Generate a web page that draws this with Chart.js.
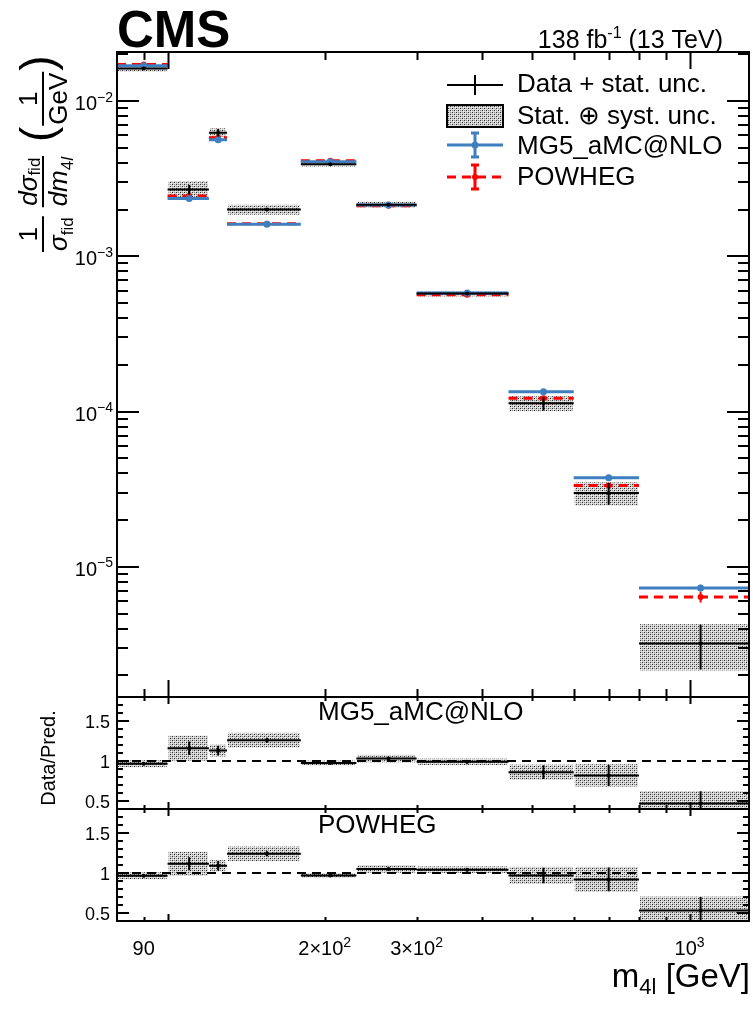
<!DOCTYPE html>
<html>
<head>
<meta charset="utf-8">
<script src="https://cdn.jsdelivr.net/npm/chart.js@4/dist/chart.umd.min.js"></script>
<style>
  html, body { margin: 0; padding: 0; background: #fff; }
  #wrap { width: 753px; height: 1015px; position: relative; }
</style>
</head>
<body>
<div id="wrap"><canvas id="chart" width="753" height="1015"></canvas></div>
<script>
// m4l bins (GeV) and points
const binEdges = [80, 100, 120, 130, 180, 230, 300, 450, 600, 800, 1300];
const binCenters = [90, 110, 125, 155, 205, 265, 375, 525, 700, 1050];

// normalised cross sections (1/GeV)
const dataXsec = [0.0162, 0.00269, 0.00626, 0.00200, 0.00391, 0.00215, 0.000575, 0.000113, 0.0000299, 0.00000321];
const dataStatRel = [0.02, 0.072, 0.055, 0.025, 0.015, 0.015, 0.02, 0.10, 0.16, 0.32];
const dataTotRel = [0.045, 0.135, 0.065, 0.073, 0.03, 0.045, 0.04, 0.11, 0.17, 0.33];

const mg5Xsec = [0.0169, 0.00236, 0.00564, 0.00161, 0.00407, 0.00214, 0.00058, 0.000134, 0.0000374, 0.00000731];
const mg5UncRel = [0.02, 0.02, 0.02, 0.02, 0.015, 0.015, 0.02, 0.03, 0.04, 0.05];
const powhegXsec = [0.0172, 0.00245, 0.00581, 0.00162, 0.00413, 0.00212, 0.000565, 0.000122, 0.0000334, 0.0000064];
const powhegUncRel = [0.01, 0.01, 0.01, 0.01, 0.01, 0.01, 0.015, 0.02, 0.03, 0.08];

// data / prediction
const ratioMg5 = [0.966, 1.16, 1.13, 1.26, 0.975, 1.03, 0.99, 0.86, 0.82, 0.47];
const ratioPowheg = [0.966, 1.116, 1.09, 1.24, 0.97, 1.05, 1.04, 0.97, 0.92, 0.53];

// axis ticks
const xMajorTicks = [100, 1000];
const xMinorTicks = [90, 200, 300, 400, 500, 600, 700, 800, 900];
const xTickValues = [90, 200, 300, 1000];
const xTickText = ['90', '2\u00d710^2', '3\u00d710^2', '10^3'];
const yMainTickValues = [1e-5, 1e-4, 1e-3, 1e-2];
const yMainTickText = ['10^\u22125', '10^\u22124', '10^\u22123', '10^\u22122'];
const ratioTickValues = [0.5, 1, 1.5];
const ratioTickText = ['0.5', '1', '1.5'];

const FONT = '"Liberation Sans", Arial, Helvetica, sans-serif';
const BLUE = '#3f7fc0';
const RED = '#ff0000';

const pattern = (() => {
  const c = document.createElement('canvas');
  c.width = 4; c.height = 4;
  const g = c.getContext('2d');
  g.fillStyle = '#d4d4d4'; g.fillRect(0, 0, 4, 4);
  g.fillStyle = '#2e2e2e';
  g.fillRect(0, 0, 1, 1); g.fillRect(2, 2, 1, 1);
  g.fillStyle = '#8c8c8c';
  g.fillRect(2, 0, 1, 1); g.fillRect(0, 2, 1, 1);
  g.fillStyle = '#f4f4f4';
  g.fillRect(1, 1, 1, 1); g.fillRect(3, 3, 1, 1);
  return g.createPattern(c, 'repeat');
})();

function stepPoints(values) {
  const pts = [];
  values.forEach((v, i) => {
    pts.push({x: binEdges[i], y: v}, {x: binEdges[i + 1], y: v}, {x: binEdges[i + 1], y: null});
  });
  return pts;
}
function errPoints(values, rel) {
  const pts = [];
  values.forEach((v, i) => {
    pts.push({x: binCenters[i], y: v * (1 - rel[i])}, {x: binCenters[i], y: v * (1 + rel[i])}, {x: binCenters[i], y: null});
  });
  return pts;
}
function centerPoints(values) {
  return values.map((v, i) => ({x: binCenters[i], y: v}));
}
function lineSet(data, yAxisID, color, width, order, dash) {
  return {data, yAxisID, xAxisID: 'x', showLine: true, pointRadius: 0, borderColor: color,
    borderWidth: width, borderDash: dash || [], order, fill: false, borderCapStyle: 'butt'};
}
function dotSet(data, yAxisID, color, r, order) {
  return {data, yAxisID, xAxisID: 'x', showLine: false, pointRadius: r, pointBorderWidth: 0,
    backgroundColor: color, borderColor: color, order};
}

const datasets = [
  // main panel
  lineSet(stepPoints(powhegXsec), 'yMain', RED, 3, 6, [9, 6]),
  lineSet(errPoints(powhegXsec, powhegUncRel), 'yMain', RED, 2, 6),
  dotSet(centerPoints(powhegXsec), 'yMain', RED, 3, 6),
  lineSet(stepPoints(mg5Xsec), 'yMain', BLUE, 3, 5),
  lineSet(errPoints(mg5Xsec, mg5UncRel), 'yMain', BLUE, 2, 5),
  dotSet(centerPoints(mg5Xsec), 'yMain', BLUE, 3.5, 5),
  lineSet(stepPoints(dataXsec), 'yMain', '#000', 2, 2),
  lineSet(errPoints(dataXsec, dataStatRel), 'yMain', '#000', 2, 2),
  dotSet(centerPoints(dataXsec), 'yMain', '#000', 2, 2),
  // ratio MG5
  lineSet([{x: binEdges[0], y: 1}, {x: binEdges[binEdges.length - 1], y: 1}], 'yR1', '#000', 2, 4, [9, 6]),
  lineSet(stepPoints(ratioMg5), 'yR1', '#000', 2, 2),
  lineSet(errPoints(ratioMg5, dataStatRel), 'yR1', '#000', 2, 2),
  dotSet(centerPoints(ratioMg5), 'yR1', '#000', 2, 2),
  // ratio POWHEG
  lineSet([{x: binEdges[0], y: 1}, {x: binEdges[binEdges.length - 1], y: 1}], 'yR2', '#000', 2, 4, [9, 6]),
  lineSet(stepPoints(ratioPowheg), 'yR2', '#000', 2, 2),
  lineSet(errPoints(ratioPowheg, dataStatRel), 'yR2', '#000', 2, 2),
  dotSet(centerPoints(ratioPowheg), 'yR2', '#000', 2, 2)
];

const boxPlugin = {
  id: 'uncBoxes',
  beforeDatasetsDraw(chart) {
    const ctx = chart.ctx;
    const x = chart.scales.x;
    const drawBoxes = (yScale, values, rel) => {
      ctx.save();
      ctx.beginPath();
      ctx.rect(x.left, yScale.top, x.right - x.left, yScale.bottom - yScale.top);
      ctx.clip();
      ctx.fillStyle = pattern;
      values.forEach((v, i) => {
        const x0 = x.getPixelForValue(binEdges[i]) + 1;
        const x1 = x.getPixelForValue(binEdges[i + 1]) - 1;
        const y0 = yScale.getPixelForValue(v * (1 + rel[i]));
        const y1 = yScale.getPixelForValue(v * (1 - rel[i]));
        ctx.fillRect(x0, y0, x1 - x0, y1 - y0);
      });
      ctx.restore();
    };
    drawBoxes(chart.scales.yMain, dataXsec, dataTotRel);
    drawBoxes(chart.scales.yR1, ratioMg5, dataTotRel);
    drawBoxes(chart.scales.yR2, ratioPowheg, dataTotRel);
  }
};

const clipPlugin = {
  id: 'panelClip',
  beforeDatasetDraw(chart, args) {
    const y = chart.scales[args.meta.yAxisID];
    const x = chart.scales.x;
    chart.ctx.save();
    chart.ctx.beginPath();
    chart.ctx.rect(x.left, y.top, x.right - x.left, y.bottom - y.top);
    chart.ctx.clip();
  },
  afterDatasetDraw(chart) {
    chart.ctx.restore();
  }
};

// text with ^superscript
function drawRich(ctx, text, x, y, size, align) {
  const parts = [];
  const m = text.split('^');
  parts.push({t: m[0], sup: false});
  if (m.length > 1) parts.push({t: m[1], sup: true});
  const supSize = Math.round(size * 0.7);
  let w = 0;
  parts.forEach(p => {
    ctx.font = (p.sup ? supSize : size) + 'px ' + FONT;
    p.w = ctx.measureText(p.t).width;
    w += p.w;
  });
  let cx = align === 'right' ? x - w : align === 'center' ? x - w / 2 : x;
  ctx.textAlign = 'left';
  ctx.textBaseline = 'alphabetic';
  parts.forEach(p => {
    ctx.font = (p.sup ? supSize : size) + 'px ' + FONT;
    ctx.fillText(p.t, cx, p.sup ? y - size * 0.42 : y);
    cx += p.w;
  });
}

const framePlugin = {
  id: 'frames',
  afterDraw(chart) {
    const ctx = chart.ctx;
    const x = chart.scales.x;
    const panels = [
      {s: chart.scales.yMain, xMaj: 17, xMin: 8},
      {s: chart.scales.yR1, xMaj: 7, xMin: 4},
      {s: chart.scales.yR2, xMaj: 7, xMin: 4}
    ];
    ctx.save();
    ctx.strokeStyle = '#000';
    ctx.fillStyle = '#000';
    ctx.lineWidth = 2;
    panels.forEach((p, k) => {
      const s = p.s;
      // x ticks top and bottom, inward
      const xt = (v, len) => {
        const px = Math.round(x.getPixelForValue(v)) + 0.5;
        ctx.beginPath();
        ctx.moveTo(px, s.bottom); ctx.lineTo(px, s.bottom - len);
        ctx.moveTo(px, s.top); ctx.lineTo(px, s.top + len);
        ctx.stroke();
      };
      xMinorTicks.forEach(v => xt(v, p.xMin));
      xMajorTicks.forEach(v => xt(v, p.xMaj));
      // y ticks left and right
      const yt = (v, len) => {
        const py = Math.round(s.getPixelForValue(v));
        if (py < s.top + 1 || py > s.bottom - 1) return;
        ctx.beginPath();
        ctx.moveTo(x.left, py); ctx.lineTo(x.left + len, py);
        ctx.moveTo(x.right, py); ctx.lineTo(x.right - len, py);
        ctx.stroke();
      };
      if (k === 0) {
        for (let e = -6; e <= -2; e++) {
          for (let d = 1; d <= 9; d++) yt(d * Math.pow(10, e), d === 1 ? 22 : 11);
        }
      } else {
        for (let i = 4; i <= 18; i++) yt(i / 10, i % 5 === 0 ? 12 : 6);
      }
      ctx.strokeRect(x.left, s.top, x.right - x.left, s.bottom - s.top);
    });

    // tick labels
    const yMain = chart.scales.yMain;
    yMainTickValues.forEach((v, i) => drawRich(ctx, yMainTickText[i], 113, yMain.getPixelForValue(v) + 9, 20, 'right'));
    [chart.scales.yR1, chart.scales.yR2].forEach(s => {
      ratioTickValues.forEach((v, i) => {
        ctx.font = '18px ' + FONT;
        ctx.textAlign = 'right';
        ctx.textBaseline = 'alphabetic';
        ctx.fillText(ratioTickText[i], 110, s.getPixelForValue(v) + 7);
      });
    });
    xTickValues.forEach((v, i) => drawRich(ctx, xTickText[i], x.getPixelForValue(v), 955, 20, 'center'));

    // axis titles
    ctx.textAlign = 'left';
    ctx.font = '33px ' + FONT;
    const tail = ' [GeV]';
    const wTail = ctx.measureText(tail).width;
    ctx.font = '22px ' + FONT;
    const wSub = ctx.measureText('4l').width;
    ctx.font = '33px ' + FONT;
    const wM = ctx.measureText('m').width;
    let tx = 750 - wTail - wSub - wM;
    ctx.fillText('m', tx, 987);
    ctx.font = '22px ' + FONT;
    ctx.fillText('4l', tx + wM, 994);
    ctx.font = '33px ' + FONT;
    ctx.fillText(tail, tx + wM + wSub, 987);

    // ratio y title
    ctx.save();
    ctx.translate(55, 758);
    ctx.rotate(-Math.PI / 2);
    ctx.font = '20px ' + FONT;
    ctx.textAlign = 'center';
    ctx.fillText('Data/Pred.', 0, 0);
    ctx.restore();

    // main y title
    drawYTitle(ctx);

    // panel labels
    ctx.textAlign = 'left';
    ctx.font = '26px ' + FONT;
    ctx.fillText('MG5_aMC@NLO', 318, 720);
    ctx.fillText('POWHEG', 318, 833);

    // CMS + lumi
    ctx.font = 'bold 51px ' + FONT;
    ctx.fillText('CMS', 117, 47);
    ctx.font = '25px ' + FONT;
    const l1 = '138 fb', l2 = '-1', l3 = ' (13 TeV)';
    const w1 = ctx.measureText(l1).width, w3 = ctx.measureText(l3).width;
    ctx.font = '16px ' + FONT;
    const w2 = ctx.measureText(l2).width;
    let lx = 723 - w1 - w2 - w3;
    ctx.font = '25px ' + FONT;
    ctx.fillText(l1, lx, 48);
    ctx.font = '16px ' + FONT;
    ctx.fillText(l2, lx + w1, 38);
    ctx.font = '25px ' + FONT;
    ctx.fillText(l3, lx + w1 + w2, 48);

    drawLegend(ctx);
    ctx.restore();
  }
};

function drawYTitle(ctx) {
  ctx.save();
  ctx.translate(43, 252);
  ctx.rotate(-Math.PI / 2);
  ctx.fillStyle = '#000';
  ctx.strokeStyle = '#000';
  ctx.textAlign = 'left';
  ctx.textBaseline = 'alphabetic';
  const big = '26px ' + FONT, bigIt = 'italic 26px ' + FONT;
  const sub = '17px ' + FONT, subIt = 'italic 17px ' + FONT;
  const measure = (runs) => runs.reduce((w, r) => { ctx.font = r.f; return w + ctx.measureText(r.t).width; }, 0);
  const drawRuns = (runs, u, v) => {
    runs.forEach(r => { ctx.font = r.f; ctx.fillText(r.t, u, v + (r.dy || 0)); u += ctx.measureText(r.t).width; });
  };
  const frac = (num, den, u) => {
    const wn = measure(num), wd = measure(den);
    const w = Math.max(wn, wd) + 2;
    ctx.lineWidth = 2;
    ctx.beginPath(); ctx.moveTo(u, 0); ctx.lineTo(u + w, 0); ctx.stroke();
    drawRuns(num, u + (w - wn) / 2, -6);
    drawRuns(den, u + (w - wd) / 2, 24);
    return u + w;
  };
  let u = 0;
  u = frac([{t: '1', f: big}], [{t: '\u03c3', f: bigIt}, {t: 'fid', f: sub, dy: 6}], u);
  u += 9;
  u = frac([{t: 'd\u03c3', f: bigIt}, {t: 'fid', f: sub, dy: 3}],
           [{t: 'dm', f: bigIt}, {t: '4', f: sub, dy: 6}, {t: 'l', f: subIt, dy: 6}], u);
  u += 14;
  ctx.font = '46px ' + FONT;
  ctx.fillText('(', u, 10);
  u += ctx.measureText('(').width + 1;
  u = frac([{t: '1', f: big}], [{t: 'GeV', f: big}], u);
  ctx.font = '46px ' + FONT;
  ctx.fillText(')', u + 1, 10);
  ctx.restore();
}

function drawLegend(ctx) {
  const x0 = 447, x1 = 503, xc = 475;
  const rows = [92, 124, 154, 185];
  const mids = [85, 116, 145, 177];
  ctx.save();
  // data
  ctx.strokeStyle = '#000'; ctx.lineWidth = 2;
  ctx.beginPath();
  ctx.moveTo(x0, mids[0]); ctx.lineTo(x1, mids[0]);
  ctx.moveTo(xc, mids[0] - 10); ctx.lineTo(xc, mids[0] + 10);
  ctx.stroke();
  // box
  ctx.fillStyle = pattern;
  ctx.fillRect(x0, mids[1] - 11, x1 - x0, 22);
  ctx.strokeRect(x0, mids[1] - 11, x1 - x0, 22);
  // MG5
  ctx.strokeStyle = BLUE; ctx.lineWidth = 3;
  ctx.beginPath(); ctx.moveTo(x0, mids[2]); ctx.lineTo(x1, mids[2]); ctx.stroke();
  ctx.beginPath();
  ctx.moveTo(xc, mids[2] - 12); ctx.lineTo(xc, mids[2] + 12);
  ctx.moveTo(xc - 4, mids[2] - 12); ctx.lineTo(xc + 4, mids[2] - 12);
  ctx.moveTo(xc - 4, mids[2] + 12); ctx.lineTo(xc + 4, mids[2] + 12);
  ctx.stroke();
  ctx.fillStyle = BLUE;
  ctx.beginPath(); ctx.arc(xc, mids[2], 3.5, 0, Math.PI * 2); ctx.fill();
  // POWHEG
  ctx.strokeStyle = RED;
  ctx.setLineDash([9, 6]);
  ctx.beginPath(); ctx.moveTo(x0, mids[3]); ctx.lineTo(x1, mids[3]); ctx.stroke();
  ctx.setLineDash([]);
  ctx.beginPath();
  ctx.moveTo(xc, mids[3] - 12); ctx.lineTo(xc, mids[3] + 12);
  ctx.moveTo(xc - 4, mids[3] - 12); ctx.lineTo(xc + 4, mids[3] - 12);
  ctx.moveTo(xc - 4, mids[3] + 12); ctx.lineTo(xc + 4, mids[3] + 12);
  ctx.stroke();
  ctx.fillStyle = RED;
  ctx.beginPath(); ctx.arc(xc, mids[3], 3, 0, Math.PI * 2); ctx.fill();
  // labels
  ctx.fillStyle = '#000';
  ctx.font = '26px ' + FONT;
  ctx.textAlign = 'left';
  ctx.textBaseline = 'alphabetic';
  ctx.fillText('Data + stat. unc.', 517, rows[0]);
  ctx.fillText('Stat. \u2295 syst. unc.', 517, rows[1]);
  ctx.fillText('MG5_aMC@NLO', 517, rows[2]);
  ctx.fillText('POWHEG', 517, rows[3]);
  ctx.restore();
}

new Chart(document.getElementById('chart'), {
  type: 'scatter',
  data: {datasets},
  plugins: [boxPlugin, clipPlugin, framePlugin],
  options: {
    responsive: false,
    animation: false,
    events: [],
    layout: {padding: {left: 117, right: 3, top: 52, bottom: 94}},
    plugins: {legend: {display: false}, tooltip: {enabled: false}},
    scales: {
      x: {type: 'logarithmic', position: 'bottom', min: binEdges[0], max: binEdges[binEdges.length - 1], display: false},
      yR2: {type: 'linear', position: 'left', stack: 'panels', stackWeight: 112, min: 0.4, max: 1.8, display: false},
      yR1: {type: 'linear', position: 'left', stack: 'panels', stackWeight: 112, min: 0.4, max: 1.8, display: false},
      yMain: {type: 'logarithmic', position: 'left', stack: 'panels', stackWeight: 645, min: 1.45e-6, max: 0.0207, display: false}
    }
  }
});
</script>
</body>
</html>
